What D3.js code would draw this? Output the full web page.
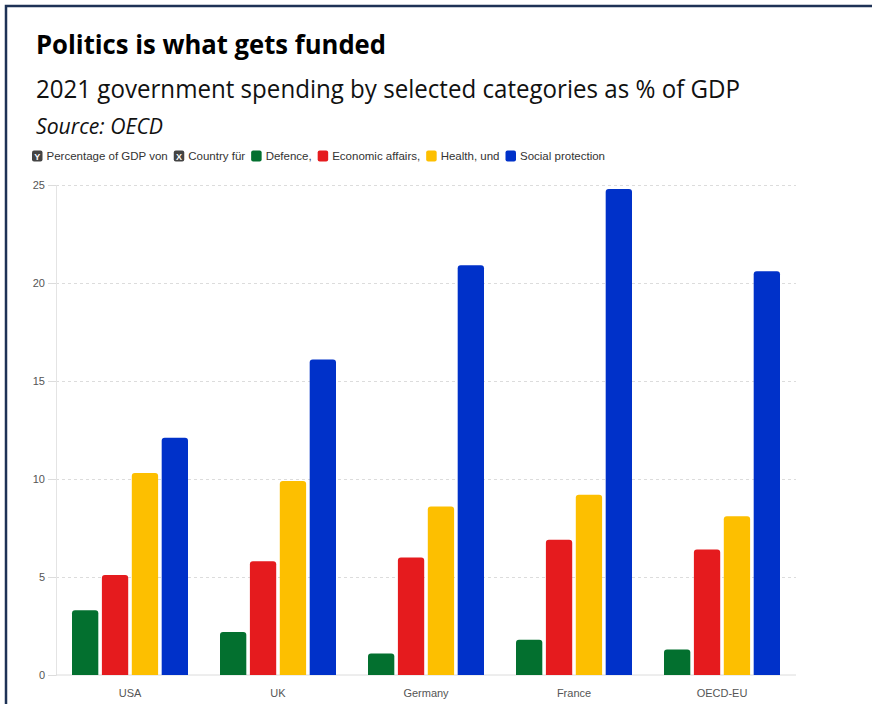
<!DOCTYPE html>
<html>
<head>
<meta charset="utf-8">
<script src="https://cdn.jsdelivr.net/npm/d3@7"></script>
<style>
  html, body { margin: 0; padding: 0; background: #fff; }
  svg { display: block; }
</style>
</head>
<body>
<div id="chart"></div>
<script>
// Data
const countries = ['USA', 'UK', 'Germany', 'France', 'OECD-EU'];
const series = ['Defence', 'Economic affairs', 'Health', 'Social protection'];
const defence = [3.3, 2.2, 1.1, 1.8, 1.3];
const economic = [5.1, 5.8, 6.0, 6.9, 6.4];
const health = [10.3, 9.9, 8.6, 9.2, 8.1];
const social = [12.1, 16.1, 20.9, 24.8, 20.6];
const yTicks = [0, 5, 10, 15, 20, 25];
const legendItems = [
  { label: 'Percentage of GDP von', icon: 'Y' },
  { label: 'Country für', icon: 'X' },
  { label: 'Defence,', key: 'Defence' },
  { label: 'Economic affairs,', key: 'Economic affairs' },
  { label: 'Health, und', key: 'Health' },
  { label: 'Social protection', key: 'Social protection' }
];

const W = 872, H = 704;
const colors = {
  'Defence': '#03702f',
  'Economic affairs': '#e51b1e',
  'Health': '#fdbf00',
  'Social protection': '#0031c9'
};
const seriesVals = [defence, economic, health, social];
const rows = countries.map((c, i) => ({
  country: c,
  values: series.map((s, j) => ({ key: s, value: seriesVals[j][i] }))
}));

const svg = d3.select('#chart').append('svg')
  .attr('width', W).attr('height', H);

// Frame border (continues off the right/bottom edge)
svg.append('rect')
  .attr('x', 6).attr('y', 6)
  .attr('width', W + 20).attr('height', H + 20)
  .attr('fill', 'none')
  .attr('stroke', '#1e3256').attr('stroke-width', 2.5);

// Titles
svg.append('text')
  .attr('x', 36).attr('y', 54)
  .attr('font-family', 'Open Sans, sans-serif').attr('font-weight', 700)
  .attr('font-size', '27px').attr('fill', '#000')
  .attr('textLength', 350).attr('lengthAdjust', 'spacingAndGlyphs')
  .text('Politics is what gets funded');

svg.append('text')
  .attr('x', 36).attr('y', 98)
  .attr('font-family', 'Open Sans, sans-serif')
  .attr('font-size', '25px').attr('fill', '#111')
  .attr('textLength', 704).attr('lengthAdjust', 'spacingAndGlyphs')
  .text('2021 government spending by selected categories as % of GDP');

svg.append('text')
  .attr('x', 36).attr('y', 134)
  .attr('font-family', 'Open Sans, sans-serif').attr('font-style', 'italic')
  .attr('font-size', '21px').attr('fill', '#111')
  .attr('textLength', 127).attr('lengthAdjust', 'spacingAndGlyphs')
  .text('Source: OECD');

// Legend
const legend = svg.append('g').attr('transform', 'translate(32,156)');
let lx = 0;
legendItems.forEach(item => {
  const g = legend.append('g').attr('transform', `translate(${lx},0)`);
  g.append('rect')
    .attr('x', 0).attr('y', -5.5).attr('width', 10.5).attr('height', 11)
    .attr('rx', 2)
    .attr('fill', item.icon ? '#444' : colors[item.key]);
  if (item.icon) {
    g.append('text')
      .attr('x', 5.25).attr('y', 3.5)
      .attr('text-anchor', 'middle')
      .attr('font-family', 'Liberation Sans, Arial, sans-serif')
      .attr('font-weight', 700).attr('font-size', '9px').attr('fill', '#fff')
      .text(item.icon);
  }
  const t = g.append('text')
    .attr('x', 14.5).attr('y', 4)
    .attr('font-family', 'Liberation Sans, Arial, sans-serif')
    .attr('font-size', '11.5px').attr('fill', '#333')
    .text(item.label);
  lx += 14.5 + t.node().getComputedTextLength() + 6;
});

// Plot area
const margin = { top: 185, right: 76, bottom: 29, left: 56 };
const iW = W - margin.left - margin.right;
const iH = H - margin.top - margin.bottom;
const g = svg.append('g').attr('transform', `translate(${margin.left},${margin.top})`);

const x0 = d3.scaleBand().domain(countries).range([0, iW]);
const x1 = d3.scaleBand().domain(series)
  .range([16, x0.bandwidth() - 16]).paddingInner(0.12);
const y = d3.scaleLinear().domain([0, 25]).range([iH, 0]);

// Grid lines
g.append('g')
  .call(d3.axisLeft(y).tickValues(yTicks.filter(d => d > 0)).tickSize(-iW).tickFormat(''))
  .call(ax => ax.select('.domain').remove())
  .call(ax => ax.selectAll('line')
    .attr('stroke', '#dcdcdc').attr('stroke-dasharray', '3,3'));

// Y axis
g.append('g')
  .call(d3.axisLeft(y).tickValues(yTicks).tickSize(8).tickPadding(3))
  .call(ax => ax.select('.domain').attr('stroke', '#e4e4e4'))
  .call(ax => ax.selectAll('line').attr('stroke', '#dcdcdc'))
  .call(ax => ax.selectAll('text')
    .attr('font-family', 'Liberation Sans, Arial, sans-serif')
    .attr('font-size', '11px').attr('fill', '#555'));

// Baseline
g.append('line')
  .attr('x1', 0).attr('x2', iW)
  .attr('y1', y(0)).attr('y2', y(0))
  .attr('stroke', '#dcdcdc');

// Bars with rounded tops
function topRounded(x, yTop, w, h, r) {
  r = Math.min(r, h, w / 2);
  return `M${x},${yTop + h}V${yTop + r}Q${x},${yTop} ${x + r},${yTop}` +
    `H${x + w - r}Q${x + w},${yTop} ${x + w},${yTop + r}V${yTop + h}Z`;
}

const groups = g.selectAll('g.country')
  .data(rows)
  .join('g')
  .attr('class', 'country')
  .attr('transform', d => `translate(${x0(d.country)},0)`);

groups.selectAll('path')
  .data(d => d.values)
  .join('path')
  .attr('d', d => topRounded(x1(d.key), y(d.value), x1.bandwidth(), y(0) - y(d.value), 3))
  .attr('fill', d => colors[d.key]);

// X labels
g.append('g')
  .selectAll('text')
  .data(countries)
  .join('text')
  .attr('x', d => x0(d) + x0.bandwidth() / 2)
  .attr('y', iH + 22)
  .attr('text-anchor', 'middle')
  .attr('font-family', 'Liberation Sans, Arial, sans-serif')
  .attr('font-size', '11px').attr('fill', '#555')
  .text(d => d);
</script>
</body>
</html>
